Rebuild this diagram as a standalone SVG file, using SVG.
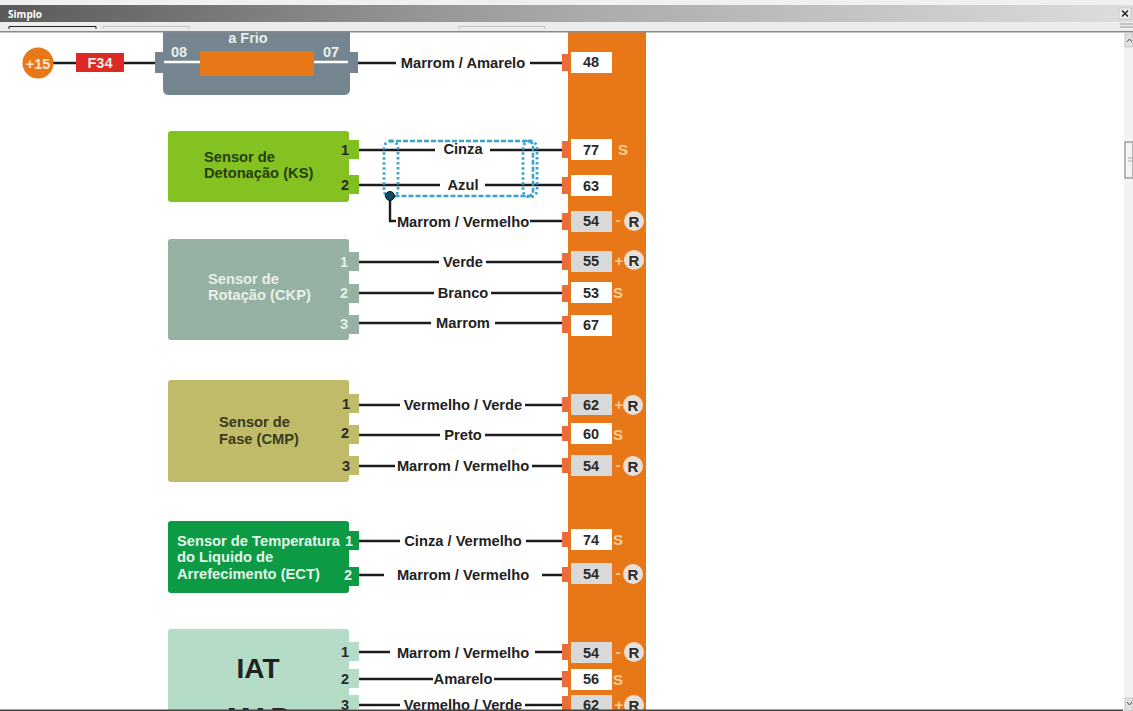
<svg xmlns="http://www.w3.org/2000/svg" width="1133" height="711" viewBox="0 0 1133 711">
<style>
text{font-family:"Liberation Sans",Arial,sans-serif;font-weight:bold}
.w{stroke:#1c1c1c;stroke-width:2.400;fill:none}
.l{font-size:14.700px;fill:#222;text-anchor:middle}
.t{font-size:14.700px;fill:#3a3a20}
.g{font-size:14.700px;fill:#263d12}
.c{font-size:14.700px;fill:#e8f0ea}
.e{font-size:14.700px;fill:#e4f4ea}
.n{font-size:14.500px;fill:#2a2a2a;text-anchor:middle}
.nw{font-size:14.500px;fill:#e6efe9;text-anchor:middle}
.box{fill:#fff}
.gb{fill:#d9d9d9}
.pin{fill:#ea6c3a}
.s{font-size:15px;fill:#f8cf9a;text-anchor:middle}
.rc{fill:#e8e0d8}
.r{font-size:15px;fill:#2a2a2a;text-anchor:middle}
.d{stroke:#3aa3cf;stroke-width:2.800;fill:none;stroke-dasharray:2.500 2.500}
.dr{stroke:#3aa3cf;stroke-width:2.600;fill:none;stroke-dasharray:5 2}
</style>
<defs>
<linearGradient id="tb" x1="0" x2="1" y1="0" y2="0"><stop offset="0" stop-color="#5a5a5a"/><stop offset=".5" stop-color="#a8a8a8"/><stop offset="1" stop-color="#dcdcdc"/></linearGradient>
<g id="R"><circle r="10" class="rc"/><text y="5.500" class="r">R</text></g>
</defs>
<rect width="1133" height="711" fill="#fff"/>

<rect id="bus" x="568" y="30" width="78" height="681" fill="#e87817"/>

<g id="connectors">
<path class="w" d="M50 63H76M124 63H156"/>
<path class="w" d="M358 63H396M530 63H562"/>
<path class="w" d="M358 150H435M490 150H562"/>
<path class="w" d="M358 185H440M485 185H562"/>
<path class="w" d="M390 197V221H396M530 221H562"/>
<path class="w" d="M358 262H439M486 262H562"/>
<path class="w" d="M358 293H434M491 293H562"/>
<path class="w" d="M358 323H431M495 323H562"/>
<path class="w" d="M358 405H400M525 405H562"/>
<path class="w" d="M358 435H440M485 435H562"/>
<path class="w" d="M358 466H395M532 466H562"/>
<path class="w" d="M358 541H400M526 541H562"/>
<path class="w" d="M358 575H384M542 575H562"/>
<path class="w" d="M358 652H390M535 652H562"/>
<path class="w" d="M358 679H433M494 679H562"/>
<path class="w" d="M358 705H400M525 705H562"/>
</g>

<g id="node-15"><circle cx="38" cy="63" r="15.500" fill="#e87817"/><text x="38" y="68.500" font-size="14.500" fill="#f5e3d0" text-anchor="middle">+15</text></g>
<g id="node-f34"><rect x="76" y="53" width="48" height="19" fill="#dd2a25"/><text x="100" y="68" class="nw">F34</text></g>

<g id="node-frio">
<rect x="155" y="52" width="10" height="21" fill="#758590"/><rect x="350" y="52" width="8" height="21" fill="#758590"/>
<path d="M163 32H350V89Q350 95 344 95H169Q163 95 163 89Z" fill="#758590"/>
<path d="M164 62H200M314 62H348" stroke="#fff" stroke-width="2.500"/>
<rect x="200" y="51" width="114" height="25" fill="#e87817"/>
<text x="179" y="57" class="nw">08</text><text x="331" y="57" class="nw">07</text>
<text x="248" y="43" class="nw">a Frio</text>
</g>

<g id="node-ks">
<rect x="340" y="140" width="19" height="19" fill="#7fc01f"/><rect x="340" y="175" width="19" height="19" fill="#7fc01f"/>
<rect x="168" y="131" width="181" height="71" rx="3" fill="#84c221"/>
<text x="204" y="162" class="g">Sensor de</text><text x="204" y="178" class="g">Detonação (KS)</text>
<text x="345" y="155" class="n">1</text><text x="345" y="190" class="n">2</text>
</g>

<g id="shield">
<path d="M389 141H530L533 144V193L530 196H389" class="dr"/>
<rect x="384" y="141" width="14" height="56" rx="7" class="d"/>
<rect x="523" y="141" width="14" height="56" rx="7" class="d"/>
<circle cx="390" cy="196" r="4.500" fill="#0f4a66" stroke="#111"/>
</g>

<g id="node-ckp">
<rect x="340" y="252" width="19" height="19" fill="#96b0a2"/><rect x="340" y="284" width="19" height="19" fill="#96b0a2"/><rect x="340" y="315" width="19" height="19" fill="#96b0a2"/>
<rect x="168" y="239" width="181" height="101" rx="3" fill="#96b0a2"/>
<text x="208" y="284" class="c">Sensor de</text><text x="208" y="300" class="c">Rotação (CKP)</text>
<text x="344" y="267" class="nw">1</text><text x="344" y="298" class="nw">2</text><text x="344" y="329" class="nw">3</text>
</g>

<g id="node-cmp">
<rect x="340" y="394" width="19" height="19" fill="#c0bb69"/><rect x="340" y="425" width="19" height="19" fill="#c0bb69"/><rect x="340" y="456" width="19" height="19" fill="#c0bb69"/>
<rect x="168" y="380" width="181" height="102" rx="3" fill="#c0bb69"/>
<text x="219" y="427" class="t">Sensor de</text><text x="219" y="444" class="t">Fase (CMP)</text>
<text x="346" y="409" class="n">1</text><text x="345" y="438" class="n">2</text><text x="346" y="471" class="n">3</text>
</g>

<g id="node-ect">
<rect x="340" y="531" width="19" height="19" fill="#0d9a45"/><rect x="340" y="567" width="19" height="19" fill="#0d9a45"/>
<rect x="168" y="521" width="181" height="72" rx="3" fill="#0d9a45"/>
<text x="177" y="546" class="e">Sensor de Temperatura</text><text x="177" y="562" class="e">do Liquido de</text><text x="177" y="579" class="e">Arrefecimento (ECT)</text>
<text x="349" y="546" class="nw">1</text><text x="348" y="580" class="nw">2</text>
</g>

<g id="node-iat">
<rect x="340" y="642" width="19" height="19" fill="#b4dcc6"/><rect x="340" y="669" width="19" height="19" fill="#b4dcc6"/><rect x="340" y="695" width="19" height="14" fill="#b4dcc6"/>
<path d="M171 629H346Q349 629 349 632V711H168V632Q168 629 171 629Z" fill="#b4dcc6"/>
<text x="258" y="678" font-size="28" fill="#222" text-anchor="middle">IAT</text>
<text x="258" y="727" font-size="28" fill="#222" text-anchor="middle">MAP</text>
<text x="345" y="657" class="n">1</text><text x="345" y="684" class="n">2</text><text x="345" y="710" class="n">3</text>
</g>

<g id="labels">
<text x="463" y="68" class="l">Marrom / Amarelo</text>
<text x="463" y="154" class="l">Cinza</text>
<text x="463" y="190" class="l">Azul</text>
<text x="463" y="227" class="l">Marrom / Vermelho</text>
<text x="463" y="267" class="l">Verde</text>
<text x="463" y="298" class="l">Branco</text>
<text x="463" y="328" class="l">Marrom</text>
<text x="463" y="410" class="l">Vermelho / Verde</text>
<text x="463" y="440" class="l">Preto</text>
<text x="463" y="471" class="l">Marrom / Vermelho</text>
<text x="463" y="546" class="l">Cinza / Vermelho</text>
<text x="463" y="580" class="l">Marrom / Vermelho</text>
<text x="463" y="658" class="l">Marrom / Vermelho</text>
<text x="463" y="684" class="l">Amarelo</text>
<text x="463" y="710" class="l">Vermelho / Verde</text>
</g>

<g id="pin-48"><rect class="pin" x="562" y="54" width="7" height="17"/><rect class="box" x="571" y="52" width="41" height="21"/><text x="591" y="67" class="n">48</text></g>
<g id="pin-77"><rect class="pin" x="562" y="141" width="7" height="17"/><rect class="box" x="571" y="139" width="41" height="21"/><text x="591" y="155" class="n">77</text><text x="623" y="155" class="s">S</text></g>
<g id="pin-63"><rect class="pin" x="562" y="177" width="7" height="17"/><rect class="box" x="571" y="175" width="41" height="21"/><text x="591" y="191" class="n">63</text></g>
<g id="pin-54a"><rect class="pin" x="562" y="213" width="7" height="17"/><rect class="gb" x="571" y="211" width="41" height="21"/><text x="591" y="226" class="n">54</text><text x="618" y="225" class="s">-</text><use href="#R" x="634" y="221"/></g>
<g id="pin-55"><rect class="pin" x="562" y="253" width="7" height="17"/><rect class="gb" x="571" y="251" width="41" height="21"/><text x="591" y="266" class="n">55</text><text x="619" y="266" class="s">+</text><use href="#R" x="634" y="260"/></g>
<g id="pin-53"><rect class="pin" x="562" y="285" width="7" height="17"/><rect class="box" x="571" y="282" width="41" height="21"/><text x="591" y="298" class="n">53</text><text x="618" y="298" class="s">S</text></g>
<g id="pin-67"><rect class="pin" x="562" y="316" width="7" height="17"/><rect class="box" x="571" y="315" width="41" height="21"/><text x="591" y="330" class="n">67</text></g>
<g id="pin-62a"><rect class="pin" x="562" y="397" width="7" height="15"/><rect class="gb" x="571" y="394" width="41" height="21"/><text x="591" y="410" class="n">62</text><text x="619" y="410" class="s">+</text><use href="#R" x="633" y="405"/></g>
<g id="pin-60"><rect class="pin" x="562" y="426" width="7" height="15"/><rect class="box" x="571" y="423" width="41" height="21"/><text x="591" y="439" class="n">60</text><text x="618" y="440" class="s">S</text></g>
<g id="pin-54b"><rect class="pin" x="562" y="458" width="7" height="15"/><rect class="gb" x="571" y="455" width="41" height="21"/><text x="591" y="471" class="n">54</text><text x="618" y="470" class="s">-</text><use href="#R" x="633" y="466"/></g>
<g id="pin-74"><rect class="pin" x="562" y="532" width="7" height="15"/><rect class="box" x="571" y="529" width="41" height="21"/><text x="591" y="545" class="n">74</text><text x="618" y="545" class="s">S</text></g>
<g id="pin-54c"><rect class="pin" x="562" y="567" width="7" height="15"/><rect class="gb" x="571" y="563" width="41" height="21"/><text x="591" y="579" class="n">54</text><text x="618" y="578" class="s">-</text><use href="#R" x="633" y="574"/></g>
<g id="pin-54d"><rect class="pin" x="562" y="644" width="7" height="16"/><rect class="gb" x="571" y="642" width="41" height="21"/><text x="591" y="658" class="n">54</text><text x="618" y="657" class="s">-</text><use href="#R" x="634" y="652"/></g>
<g id="pin-56"><rect class="pin" x="562" y="671" width="7" height="16"/><rect class="box" x="571" y="669" width="41" height="21"/><text x="591" y="684" class="n">56</text><text x="618" y="685" class="s">S</text></g>
<g id="pin-62b"><rect class="pin" x="562" y="696" width="7" height="14"/><rect class="gb" x="571" y="695" width="41" height="15"/><text x="591" y="710" class="n">62</text><text x="619" y="710" class="s">+</text><use href="#R" x="634" y="705"/></g>

<g id="chrome">
<rect x="0" y="0" width="1133" height="5" fill="#f0f0f0"/>
<rect x="0" y="5" width="1120" height="17" fill="url(#tb)"/>
<rect x="1120" y="5" width="13" height="17" fill="#dcdcdc"/>
<rect x="0" y="22" width="1133" height="9" fill="#ececec"/>
<rect x="0" y="31" width="1133" height="1.500" fill="#8a8a8a"/>
<path d="M9 29V26.500H96V29" stroke="#222" fill="none"/>
<path d="M103 29V26.500H189V29M459 29V26.500H545V29" stroke="#c4c4c4" fill="none"/>
<text x="8" y="18" font-size="10" fill="#fff" style="font-family:'Open Sans',sans-serif">Simplo</text>
<rect x="1119" y="8" width="12" height="11" fill="#eee" stroke="#aaa" stroke-width=".5"/>
<path d="M1122 10.500L1128 16.500M1128 10.500L1122 16.500" stroke="#222" stroke-width="1.500"/>
<path d="M1120 24H1133M1120 27H1133" stroke="#999"/>
<rect x="1124" y="33" width="9" height="678" fill="#f2f2f2"/>
<rect x="1125" y="34" width="8" height="13" fill="#e0e0e0" stroke="#aaa" stroke-width=".5"/>
<path d="M1127 42L1129.500 39L1132 42" stroke="#555" fill="none"/>
<rect x="1125" y="142" width="8" height="36" fill="#f4f4f4" stroke="#777"/>
<path d="M1128 158H1133M1128 161H1133" stroke="#aaa"/>
<rect x="1125" y="698" width="8" height="13" fill="#e0e0e0" stroke="#aaa" stroke-width=".5"/>
<path d="M1127 702L1129.500 705L1132 702" stroke="#555" fill="none"/>
<rect x="0" y="709.500" width="1123" height="1.500" fill="#444"/>
</g>
</svg>
